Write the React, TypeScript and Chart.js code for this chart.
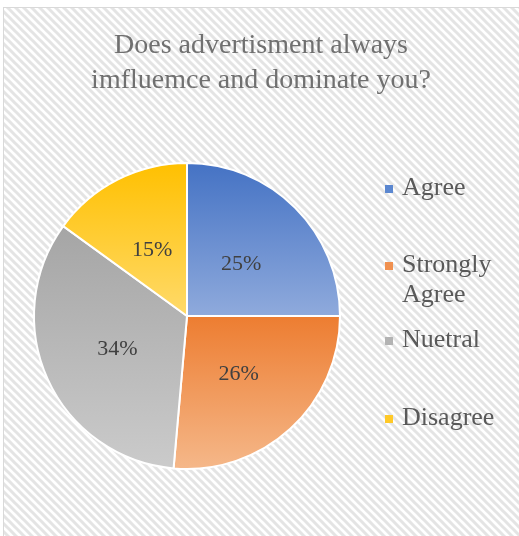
import React, { useEffect, useRef } from "react";
import { Chart, registerables } from "chart.js";

Chart.register(...registerables);

const TITLE_LINES = ["Does advertisment always", "imfluemce and dominate you?"];
const CATEGORIES = ["Agree", "Strongly Agree", "Nuetral", "Disagree"];
const LEGEND_LINES = [["Agree"], ["Strongly", "Agree"], ["Nuetral"], ["Disagree"]];
const VALUES = [25, 26.4, 33.6, 15];
const TOP_COLORS = ["#4472C4", "#ED7D31", "#A5A5A5", "#FFC000"];
const BOTTOM_COLORS = ["#8FAADC", "#F5B88A", "#CBCBCB", "#FFDA6A"];
const MARKER_COLORS = ["#5B87D0", "#F0904F", "#B3B3B3", "#FFC928"];

const SERIF = "'Liberation Serif', 'DejaVu Serif', serif";

function sliceYRange(index: number, cy: number, r: number) {
  const total = VALUES.reduce((a, b) => a + b, 0);
  let cum = 0;
  for (let i = 0; i < index; i++) cum += VALUES[i];
  const a0 = -Math.PI / 2 + (2 * Math.PI * cum) / total;
  const a1 = a0 + (2 * Math.PI * VALUES[index]) / total;
  const ys = [cy, cy + r * Math.sin(a0), cy + r * Math.sin(a1)];
  const within = (a: number) => {
    for (let k = -2; k <= 2; k++) {
      const t = a + k * 2 * Math.PI;
      if (t >= a0 && t <= a1) return true;
    }
    return false;
  };
  if (within(Math.PI / 2)) ys.push(cy + r);
  if (within(-Math.PI / 2)) ys.push(cy - r);
  return [Math.min(...ys), Math.max(...ys)];
}

const backgroundPlugin = {
  id: "bgHatch",
  beforeDraw(chart: any) {
    const ctx = chart.ctx as CanvasRenderingContext2D;
    const w = chart.width;
    const h = chart.height;
    ctx.save();
    ctx.fillStyle = "#ffffff";
    ctx.fillRect(0, 0, w, h);
    const tile = document.createElement("canvas");
    tile.width = 8;
    tile.height = 8;
    const t = tile.getContext("2d")!;
    t.fillStyle = "#ffffff";
    t.fillRect(0, 0, 8, 8);
    t.strokeStyle = "#e4e4e4";
    t.lineWidth = 3;
    t.beginPath();
    t.moveTo(-2, -2);
    t.lineTo(10, 10);
    t.moveTo(-2, 6);
    t.lineTo(2, 10);
    t.moveTo(6, -2);
    t.lineTo(10, 2);
    t.stroke();
    const pat = ctx.createPattern(tile, "repeat");
    if (pat) {
      ctx.fillStyle = pat;
      ctx.fillRect(4, 8, w - 4, h - 8);
    }
    ctx.strokeStyle = "#d9d9d9";
    ctx.lineWidth = 1;
    ctx.strokeRect(3.5, 7.5, w + 10, h + 10);
    ctx.restore();
  },
  afterDraw(chart: any) {
    const ctx = chart.ctx as CanvasRenderingContext2D;
    ctx.save();
    // title
    ctx.font = `28px ${SERIF}`;
    ctx.fillStyle = "#707070";
    ctx.textAlign = "center";
    ctx.textBaseline = "alphabetic";
    const titleBase = [53, 88];
    TITLE_LINES.forEach((line, i) => ctx.fillText(line, 261, titleBase[i]));
    // legend
    const legendBase = [195, 272, 347, 425];
    ctx.font = `26px ${SERIF}`;
    ctx.textAlign = "left";
    LEGEND_LINES.forEach((lines, i) => {
      const b = legendBase[i];
      ctx.fillStyle = MARKER_COLORS[i];
      ctx.fillRect(385, b - 10, 8, 8);
      ctx.fillStyle = "#595959";
      lines.forEach((ln, j) => ctx.fillText(ln, 402, b + j * 30));
    });
    ctx.restore();
  },
  afterDatasetsDraw(chart: any) {
    const ctx = chart.ctx as CanvasRenderingContext2D;
    const meta = chart.getDatasetMeta(0);
    const total = VALUES.reduce((a, b) => a + b, 0);
    ctx.save();
    ctx.font = `22px ${SERIF}`;
    ctx.fillStyle = "#404040";
    ctx.textAlign = "center";
    ctx.textBaseline = "middle";
    meta.data.forEach((arc: any, i: number) => {
      const p = arc.tooltipPosition();
      const pct = Math.round((VALUES[i] / total) * 100);
      ctx.fillText(pct + "%", p.x, p.y + 2);
    });
    ctx.restore();
  },
};

export default function App() {
  const ref = useRef<HTMLCanvasElement | null>(null);
  useEffect(() => {
    if (!ref.current) return;
    const chart = new Chart(ref.current, {
      type: "pie",
      data: {
        labels: CATEGORIES,
        datasets: [
          {
            data: VALUES,
            borderColor: "#ffffff",
            borderWidth: 2,
            backgroundColor: (c: any) => {
              const area = c.chart.chartArea;
              if (!area || c.dataIndex === undefined) return TOP_COLORS[0];
              const i = c.dataIndex;
              const cy = (area.top + area.bottom) / 2;
              const r = Math.min(area.right - area.left, area.bottom - area.top) / 2;
              const [y0, y1] = sliceYRange(i, cy, r);
              const g = c.chart.ctx.createLinearGradient(0, y0, 0, y1);
              g.addColorStop(0, TOP_COLORS[i]);
              g.addColorStop(1, BOTTOM_COLORS[i]);
              return g;
            },
          },
        ],
      },
      options: {
        responsive: false,
        animation: false,
        layout: { padding: { left: 33, right: 178, top: 162, bottom: 66 } },
        plugins: {
          legend: { display: false },
          title: { display: false },
          tooltip: { enabled: false },
        },
      },
      plugins: [backgroundPlugin],
    });
    return () => chart.destroy();
  }, []);
  return (
    <canvas
      ref={ref}
      width={519}
      height={536}
      style={{ position: "absolute", left: 0, top: 0, display: "block" }}
    />
  );
}
